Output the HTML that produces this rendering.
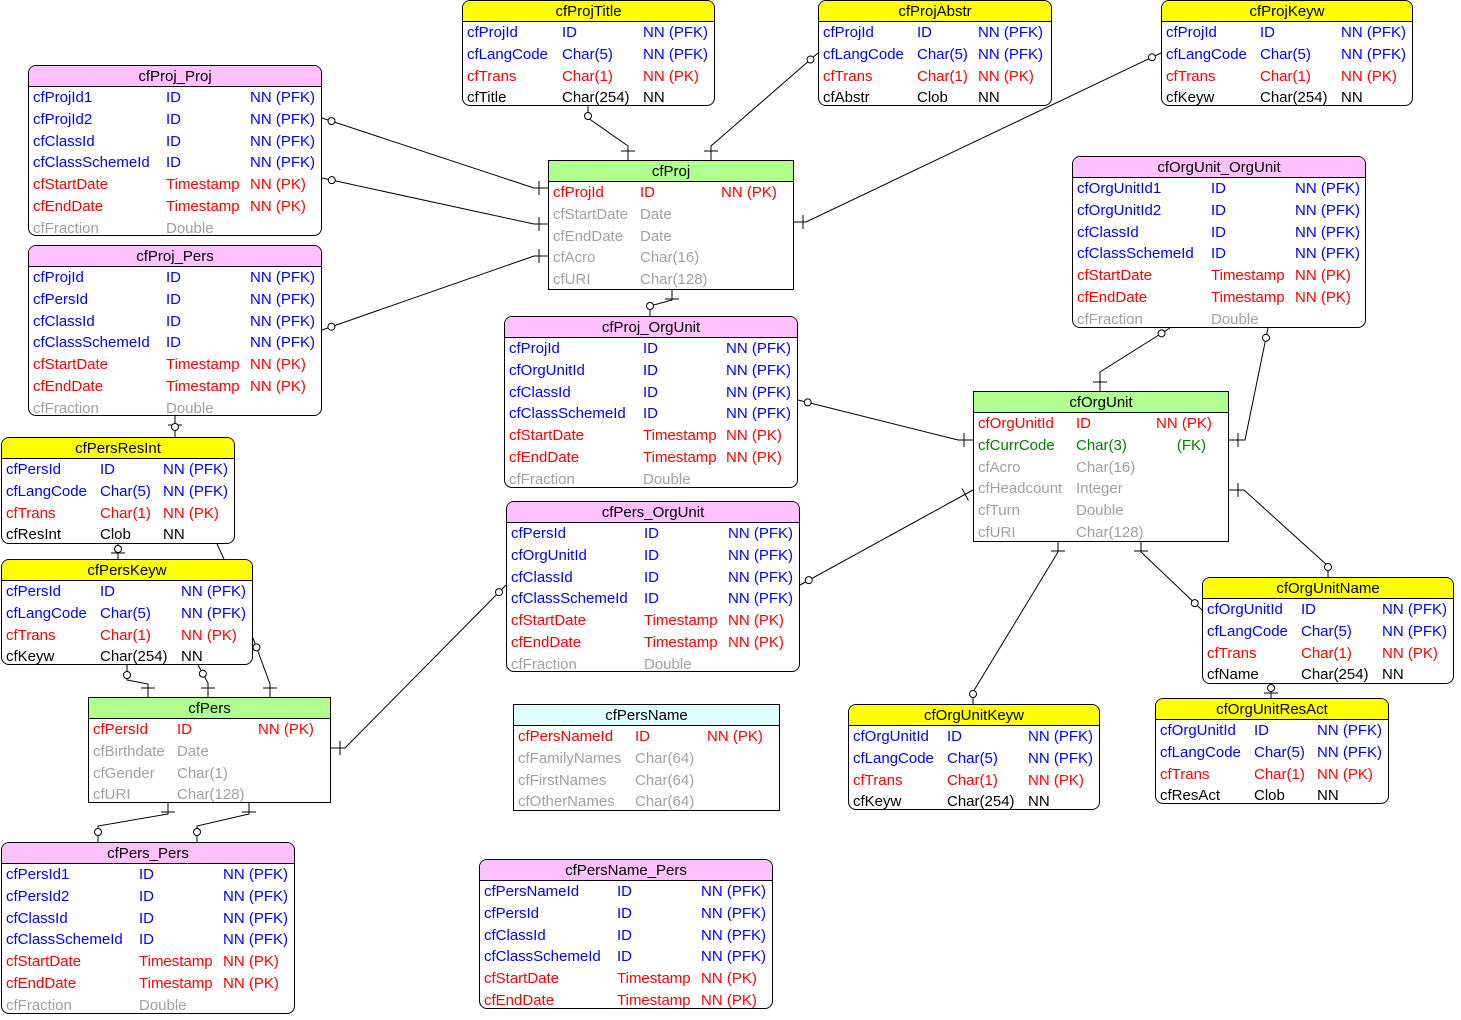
<!DOCTYPE html>
<html><head><meta charset="utf-8">
<style>
body{margin:0;width:1461px;height:1020px;background:#fff;position:relative;overflow:hidden;font-family:"Liberation Sans",Arial,sans-serif;font-size:15px}
.t{position:absolute;border:1px solid #000;background:#fff;box-sizing:border-box}
.t.r{border-radius:8px}
.h{height:21px;line-height:21px;text-align:center;border-bottom:1px solid #000;box-sizing:border-box;color:#000}
.t.r .h{border-radius:7px 7px 0 0}
.row{position:absolute;height:22px;line-height:22px;white-space:nowrap}
.pfk{color:#0000ff}.pk{color:#ff0000}.fk{color:#008000}.n{color:#000}.g{color:#a0a0a0}
svg{position:absolute;left:0;top:0}
</style></head><body>
<svg id="lines" width="1461" height="1020"></svg>
<div id="root"></div>
<script>
const P='#ffc0ff',Y='#ffff00',G='#b0ff90',C='#e0ffff';
const S=['cfStartDate','Timestamp','NN (PK)','pk'],E=['cfEndDate','Timestamp','NN (PK)','pk'],F=['cfFraction','Double','','g'];
const CS=['cfClassSchemeId','ID','NN (PFK)','pfk'],CI=['cfClassId','ID','NN (PFK)','pfk'];
const lang=['cfLangCode','Char(5)','NN (PFK)','pfk'],tr=['cfTrans','Char(1)','NN (PK)','pk'];
const tables=[
['cfProjTitle',462,0,253,106,Y,1,[467,562,643],[['cfProjId','ID','NN (PFK)','pfk'],lang,tr,['cfTitle','Char(254)','NN','n']]],
['cfProjAbstr',818,0,234,106,Y,1,[823,917,978],[['cfProjId','ID','NN (PFK)','pfk'],lang,tr,['cfAbstr','Clob','NN','n']]],
['cfProjKeyw',1161,0,252,106,Y,1,[1166,1260,1341],[['cfProjId','ID','NN (PFK)','pfk'],lang,tr,['cfKeyw','Char(254)','NN','n']]],
['cfProj_Proj',28,65,294,171,P,1,[33,166,250],[['cfProjId1','ID','NN (PFK)','pfk'],['cfProjId2','ID','NN (PFK)','pfk'],CI,CS,S,E,F]],
['cfProj',548,160,246,130,G,0,[553,640,721],[['cfProjId','ID','NN (PK)','pk'],['cfStartDate','Date','','g'],['cfEndDate','Date','','g'],['cfAcro','Char(16)','','g'],['cfURI','Char(128)','','g']]],
['cfOrgUnit_OrgUnit',1072,156,294,172,P,1,[1077,1211,1295],[['cfOrgUnitId1','ID','NN (PFK)','pfk'],['cfOrgUnitId2','ID','NN (PFK)','pfk'],CI,CS,S,E,F]],
['cfProj_Pers',28,245,294,171,P,1,[33,166,250],[['cfProjId','ID','NN (PFK)','pfk'],['cfPersId','ID','NN (PFK)','pfk'],CI,CS,S,E,F]],
['cfProj_OrgUnit',504,316,294,172,P,1,[509,643,726],[['cfProjId','ID','NN (PFK)','pfk'],['cfOrgUnitId','ID','NN (PFK)','pfk'],CI,CS,S,E,F]],
['cfOrgUnit',973,391,256,151,G,0,[978,1076,1156],[['cfOrgUnitId','ID','NN (PK)','pk'],['cfCurrCode','Char(3)','     (FK)','fk'],['cfAcro','Char(16)','','g'],['cfHeadcount','Integer','','g'],['cfTurn','Double','','g'],['cfURI','Char(128)','','g']]],
['cfPersResInt',1,437,234,107,Y,1,[6,100,163],[['cfPersId','ID','NN (PFK)','pfk'],lang,tr,['cfResInt','Clob','NN','n']]],
['cfPersKeyw',1,559,252,106,Y,1,[6,100,181],[['cfPersId','ID','NN (PFK)','pfk'],lang,tr,['cfKeyw','Char(254)','NN','n']]],
['cfPers_OrgUnit',506,501,294,171,P,1,[511,644,728],[['cfPersId','ID','NN (PFK)','pfk'],['cfOrgUnitId','ID','NN (PFK)','pfk'],CI,CS,S,E,F]],
['cfOrgUnitName',1202,577,252,107,Y,1,[1207,1301,1382],[['cfOrgUnitId','ID','NN (PFK)','pfk'],lang,tr,['cfName','Char(254)','NN','n']]],
['cfPers',88,697,243,106,G,0,[93,177,258],[['cfPersId','ID','NN (PK)','pk'],['cfBirthdate','Date','','g'],['cfGender','Char(1)','','g'],['cfURI','Char(128)','','g']]],
['cfPersName',513,704,267,107,C,0,[518,635,707],[['cfPersNameId','ID','NN (PK)','pk'],['cfFamilyNames','Char(64)','','g'],['cfFirstNames','Char(64)','','g'],['cfOtherNames','Char(64)','','g']]],
['cfOrgUnitKeyw',848,704,252,106,Y,1,[853,947,1028],[['cfOrgUnitId','ID','NN (PFK)','pfk'],lang,tr,['cfKeyw','Char(254)','NN','n']]],
['cfOrgUnitResAct',1155,698,234,106,Y,1,[1160,1254,1317],[['cfOrgUnitId','ID','NN (PFK)','pfk'],lang,tr,['cfResAct','Clob','NN','n']]],
['cfPers_Pers',1,842,294,172,P,1,[6,139,223],[['cfPersId1','ID','NN (PFK)','pfk'],['cfPersId2','ID','NN (PFK)','pfk'],CI,CS,S,E,F]],
['cfPersName_Pers',479,859,294,150,P,1,[484,617,701],[['cfPersNameId','ID','NN (PFK)','pfk'],['cfPersId','ID','NN (PFK)','pfk'],CI,CS,S,E]]
];
const root=document.getElementById('root');
tables.forEach(t=>{
  const [name,x,y,w,h,col,rnd,cols,rows]=t;
  const d=document.createElement('div');
  d.className='t'+(rnd?' r':'');
  
  
  d.style.cssText=`left:${x}px;top:${y}px;width:${w}px;height:${h}px`;
  const hd=document.createElement('div');hd.className='h';hd.style.background=col;hd.textContent=name;
  
  
  d.appendChild(hd);
  rows.forEach((r,i)=>{
    for(let k=0;k<3;k++){
      if(!r[k])continue;
      const s=document.createElement('div');s.className='row '+r[3];
      s.style.left=(cols[k]-x-1)+'px';s.style.top=(21+i*21.8)+'px';
      s.style.whiteSpace='pre';s.textContent=r[k];
      
      
      d.appendChild(s);
    }
  });
  root.appendChild(d);
});
// first point = optional (circle) end, last point = bar end
const links=[
[[588,106],[588,118],[628,146],[628,160]],
[[818,53],[711,146],[711,160]],
[[1161,53],[806,222],[794,222]],
[[322,118],[534,188],[548,188]],
[[322,178],[534,224],[548,224]],
[[322,330],[534,256],[548,256]],
[[650,316],[650,306],[672,300],[672,290]],
[[798,400],[958,440],[973,440]],
[[1170,328],[1100,372],[1100,391]],
[[1268,328],[1245,440],[1229,440]],
[[800,585],[973,490]],
[[1328,577],[1328,566],[1244,490],[1229,490]],
[[973,704],[973,692],[1058,552],[1058,542]],
[[1202,610],[1141,552],[1141,542]],
[[1271,698],[1271,684]],
[[175,437],[175,416]],
[[118,559],[118,544]],
[[127,665],[127,680],[148,684],[148,697]],
[[198,665],[208,683],[208,697]],
[[253,638],[270,684],[270,697]],
[[506,585],[345,748],[331,748]],
[[197,842],[197,826],[249,814],[249,803]],
[[98,842],[98,826],[168,814],[168,803]]
];
const svg=document.getElementById('lines');
const plain=document.createElementNS('http://www.w3.org/2000/svg','line');
plain.setAttribute('x1',217);plain.setAttribute('y1',544);plain.setAttribute('x2',224);plain.setAttribute('y2',559);plain.setAttribute('stroke','#000');


svg.appendChild(plain);
links.forEach(l=>{
  const p=document.createElementNS('http://www.w3.org/2000/svg','polyline');
  p.setAttribute('points',l.map(a=>a.join(',')).join(' '));
  p.setAttribute('fill','none');p.setAttribute('stroke','#000');p.setAttribute('stroke-width','1');
  
  
  svg.appendChild(p);
  const a=l[l.length-1],b=l[l.length-2];
  const dx=a[0]-b[0],dy=a[1]-b[1],L=Math.hypot(dx,dy)||1,ux=dx/L,uy=dy/L;
  const cx=a[0]-ux*9,cy=a[1]-uy*9;
  const tk=document.createElementNS('http://www.w3.org/2000/svg','line');
  tk.setAttribute('x1',cx-uy*7);tk.setAttribute('y1',cy+ux*7);tk.setAttribute('x2',cx+uy*7);tk.setAttribute('y2',cy-ux*7);
  tk.setAttribute('stroke','#000');
  
  
  svg.appendChild(tk);
  const s=l[0],n=l[1];
  const ex=n[0]-s[0],ey=n[1]-s[1],M=Math.hypot(ex,ey)||1;
  const c=document.createElementNS('http://www.w3.org/2000/svg','circle');
  c.setAttribute('cx',s[0]+ex/M*10);c.setAttribute('cy',s[1]+ey/M*10);c.setAttribute('r',3.5);
  c.setAttribute('fill','#fff');c.setAttribute('stroke','#000');
  
  
  svg.appendChild(c);
});
</script>
</body></html>
